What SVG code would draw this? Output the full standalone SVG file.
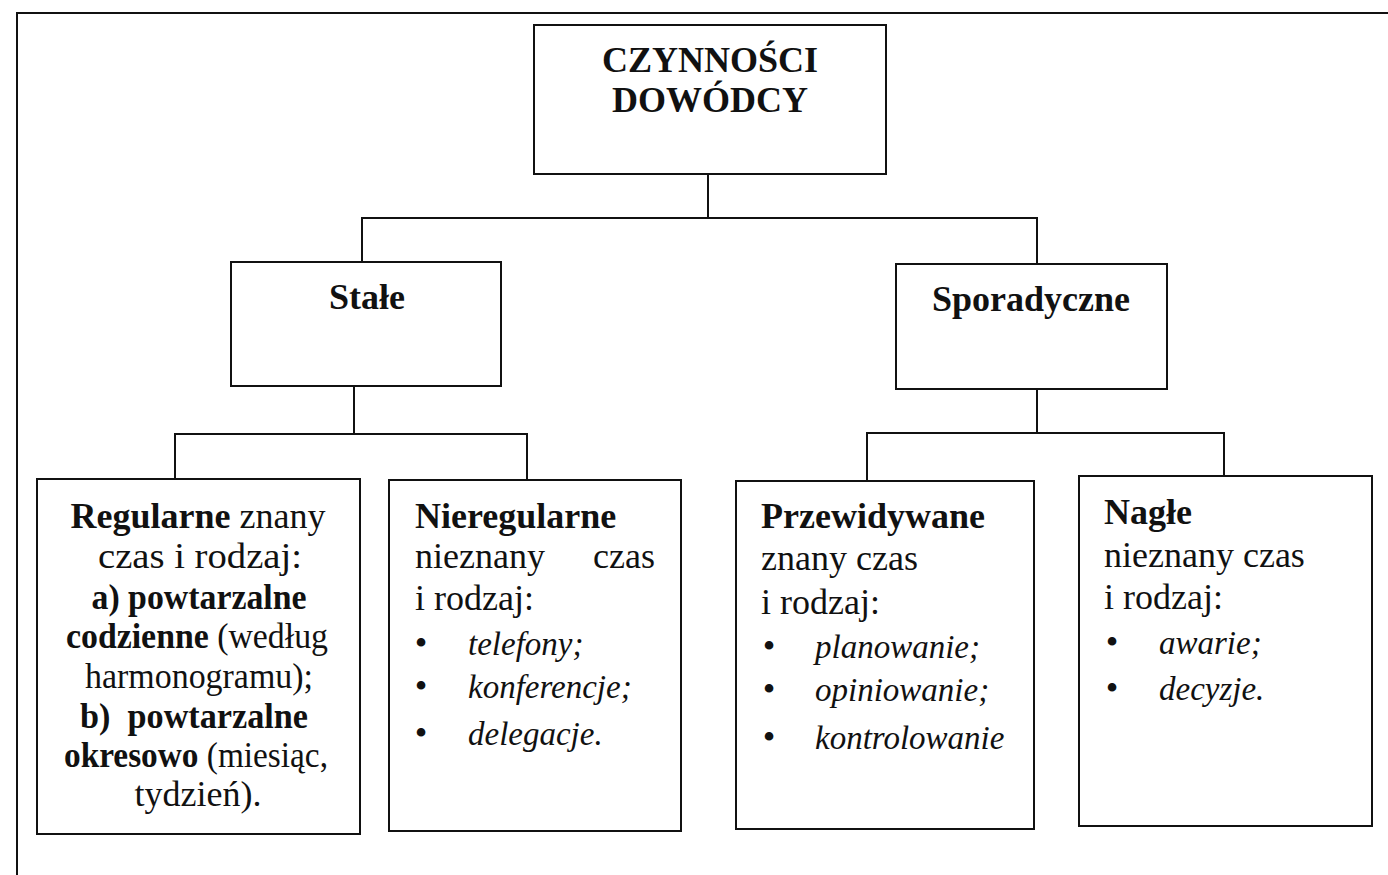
<svg xmlns="http://www.w3.org/2000/svg" width="1388" height="875" viewBox="0 0 1388 875">
<style>
  .box { fill: #fff; stroke: #111; stroke-width: 2; }
  .ln { fill: none; stroke: #111; stroke-width: 2; }
  text { font-family: "Liberation Serif", "Times New Roman", serif; fill: #111; font-size: 36px; }
  .b { font-weight: bold; }
  .c { text-anchor: middle; }
  .it { font-style: italic; font-size: 33px; }
  .bul { text-anchor: middle; font-size: 36px; }
</style>
<rect x="0" y="0" width="1388" height="875" fill="#fff"/>
<polyline class="ln" points="17,875 17,13 1388,13"/>

<g id="connectors">
  <polyline class="ln" points="708,174 708,218"/>
  <polyline class="ln" points="362,262 362,218 1037,218 1037,264"/>
  <polyline class="ln" points="354,386 354,434"/>
  <polyline class="ln" points="175,479 175,434 527,434 527,480"/>
  <polyline class="ln" points="1037,389 1037,433"/>
  <polyline class="ln" points="867,481 867,433 1224,433 1224,476"/>
</g>

<g id="node-czynnosci">
  <rect class="box" x="534" y="25" width="352" height="149"/>
  <text class="b c" x="710" y="72">CZYNNOŚCI</text>
  <text class="b c" x="710" y="112">DOWÓDCY</text>
</g>

<g id="node-stale">
  <rect class="box" x="231" y="262" width="270" height="124"/>
  <text class="b c" x="367" y="309">Stałe</text>
</g>

<g id="node-sporadyczne">
  <rect class="box" x="896" y="264" width="271" height="125"/>
  <text class="b c" x="1031" y="311">Sporadyczne</text>
</g>

<g id="node-regularne">
  <rect class="box" x="37" y="479" width="323" height="355"/>
  <text class="c" x="198" y="528"><tspan class="b">Regularne</tspan> znany</text>
  <text class="c" x="200" y="568" textLength="204" lengthAdjust="spacingAndGlyphs">czas i rodzaj:</text>
  <text class="c b" x="199" y="609" textLength="215" lengthAdjust="spacingAndGlyphs">a) powtarzalne</text>
  <text class="c" x="197" y="648" textLength="262" lengthAdjust="spacingAndGlyphs"><tspan class="b">codzienne</tspan> (według</text>
  <text class="c" x="199" y="688" textLength="228" lengthAdjust="spacingAndGlyphs">harmonogramu);</text>
  <text class="c b" x="194" y="728" xml:space="preserve" textLength="228" lengthAdjust="spacingAndGlyphs">b)  powtarzalne</text>
  <text class="c" x="196" y="767" textLength="264" lengthAdjust="spacingAndGlyphs"><tspan class="b">okresowo</tspan> (miesiąc,</text>
  <text class="c" x="198" y="806">tydzień).</text>
</g>

<g id="node-nieregularne">
  <rect class="box" x="389" y="480" width="292" height="351"/>
  <text class="b" x="415" y="528">Nieregularne</text>
  <text x="415" y="568">nieznany</text>
  <text x="655" y="568" text-anchor="end">czas</text>
  <text x="415" y="610">i rodzaj:</text>
  <text class="bul" x="421" y="655">•</text>
  <text class="it" x="468" y="655">telefony;</text>
  <text class="bul" x="421" y="698">•</text>
  <text class="it" x="468" y="698">konferencje;</text>
  <text class="bul" x="421" y="745">•</text>
  <text class="it" x="468" y="745">delegacje.</text>
</g>

<g id="node-przewidywane">
  <rect class="box" x="736" y="481" width="298" height="348"/>
  <text class="b" x="761" y="528">Przewidywane</text>
  <text x="761" y="570">znany czas</text>
  <text x="761" y="614">i rodzaj:</text>
  <text class="bul" x="769" y="658">•</text>
  <text class="it" x="815" y="658">planowanie;</text>
  <text class="bul" x="769" y="701">•</text>
  <text class="it" x="815" y="701">opiniowanie;</text>
  <text class="bul" x="769" y="749">•</text>
  <text class="it" x="815" y="749">kontrolowanie</text>
</g>

<g id="node-nagle">
  <rect class="box" x="1079" y="476" width="293" height="350"/>
  <text class="b" x="1104" y="524">Nagłe</text>
  <text x="1104" y="567">nieznany czas</text>
  <text x="1104" y="609">i rodzaj:</text>
  <text class="bul" x="1112" y="654">•</text>
  <text class="it" x="1159" y="654">awarie;</text>
  <text class="bul" x="1112" y="700">•</text>
  <text class="it" x="1159" y="700">decyzje.</text>
</g>
</svg>
